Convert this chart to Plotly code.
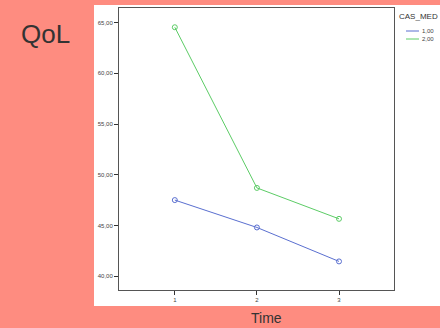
import plotly.graph_objects as go

time_points = [1, 2, 3]
cas_med_1 = [47.5, 44.8, 41.45]
cas_med_2 = [64.55, 48.7, 45.65]
y_ticks = [40, 45, 50, 55, 60, 65]
y_tick_labels = ["40,00", "45,00", "50,00", "55,00", "60,00", "65,00"]
x_ticks = [1, 2, 3]
x_tick_labels = ["1", "2", "3"]
group_names = ["1,00", "2,00"]
legend_title = "CAS_MED"
colors = ["#5a6fd0", "#5ccc66"]

W, H = 440, 328
L, R, T, B = 119, 394, 8, 290
PW, PH = R - L, B - T


def px(x):
    return (x - L) / PW


def py(y):
    return (B - y) / PH


fig = go.Figure()
for vals, name, c in zip([cas_med_1, cas_med_2], group_names, colors):
    fig.add_trace(go.Scatter(x=time_points, y=vals, name=name, mode="lines+markers",
                             showlegend=False,
                             line=dict(color=c, width=1),
                             marker=dict(symbol="circle-open", size=5, color=c)))

fig.add_shape(type="rect", xref="paper", yref="paper", layer="below",
              x0=px(94), x1=px(440), y0=py(306), y1=py(5),
              fillcolor="white", line=dict(width=0))

# legend (manual, compact like SPSS)
fig.add_annotation(text=legend_title, xref="paper", yref="paper", x=px(397), y=py(17),
                   xanchor="left", yanchor="middle", showarrow=False,
                   font=dict(family="Liberation Sans", size=8, color="#333333"))
for i, (name, c) in enumerate(zip(group_names, colors)):
    yy = 31 + 8 * i
    fig.add_shape(type="line", xref="paper", yref="paper",
                  x0=px(406), x1=px(419), y0=py(yy), y1=py(yy),
                  line=dict(color=c, width=1))
    fig.add_annotation(text=name, xref="paper", yref="paper", x=px(420), y=py(yy),
                       xanchor="left", yanchor="middle", showarrow=False,
                       font=dict(family="Liberation Sans", size=6, color="#444444"))

fig.add_annotation(text="QoL", xref="paper", yref="paper", x=px(45), y=py(34),
                   xanchor="center", yanchor="middle", showarrow=False,
                   font=dict(family="Liberation Sans", size=26, color="#333333"))
fig.add_annotation(text="Time", xref="paper", yref="paper", x=px(266), y=py(318),
                   xanchor="center", yanchor="middle", showarrow=False,
                   font=dict(family="Liberation Sans", size=14, color="#333333"))

fig.update_layout(
    width=W, height=H,
    margin=dict(l=L, r=W - R, t=T, b=H - B, autoexpand=False),
    paper_bgcolor="#fe8c80",
    plot_bgcolor="#f0f0f0",
    showlegend=False,
    xaxis=dict(range=[0.32, 3.67], tickvals=x_ticks, ticktext=x_tick_labels,
               showgrid=False, zeroline=False, showline=True, linecolor="#555555", linewidth=1,
               mirror=True, ticks="outside", ticklen=4, tickcolor="#333333",
               tickfont=dict(size=6, color="#444444", family="Liberation Sans")),
    yaxis=dict(range=[38.63, 66.45], tickvals=y_ticks, ticktext=y_tick_labels,
               showgrid=False, zeroline=False, showline=True, linecolor="#555555", linewidth=1,
               mirror=True, ticks="outside", ticklen=4, tickcolor="#333333",
               tickfont=dict(size=6, color="#444444", family="Liberation Sans")),
)
fig.write_html("out.html")
